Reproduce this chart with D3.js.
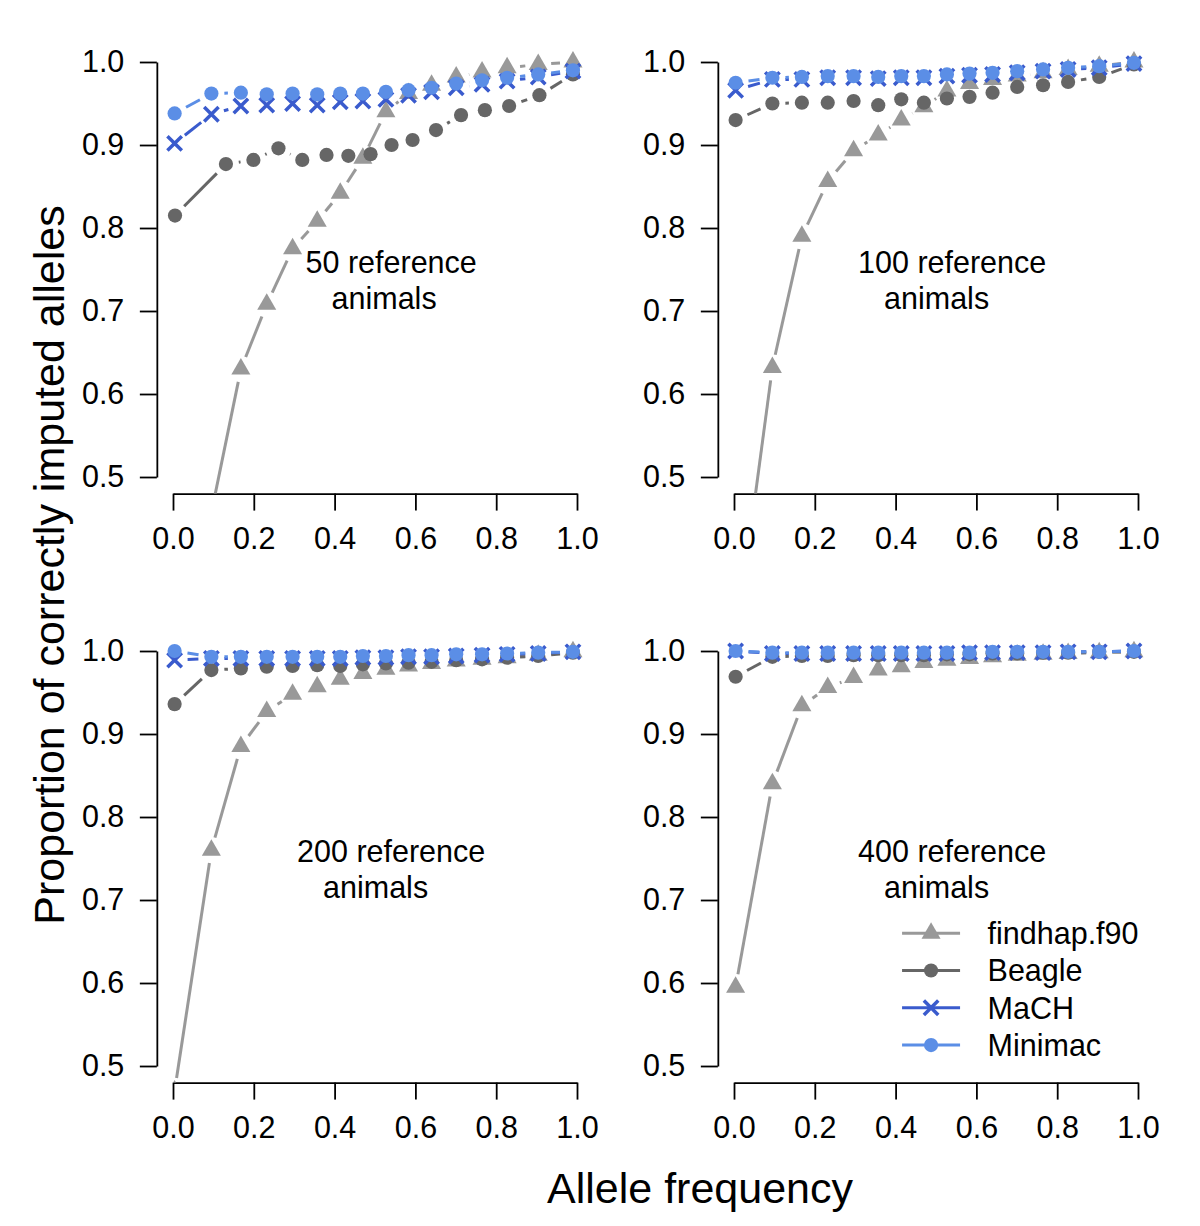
<!DOCTYPE html>
<html>
<head>
<meta charset="utf-8">
<script src="https://cdn.jsdelivr.net/npm/d3@7"></script>
<style>
  body { margin: 0; background: #fff; }
  svg { font-family: "Liberation Sans", Arial, sans-serif; }
</style>
</head>
<body>
<svg id="canvas" width="1200" height="1226"></svg>
<script>
// allele frequency bins (x of every point)
var alleleFreq = [0.004, 0.095, 0.168, 0.232, 0.296, 0.357, 0.414, 0.470, 0.527, 0.583, 0.640, 0.701, 0.765, 0.827, 0.904, 0.990];
// Beagle in the 50-animal panel sits at slightly shifted frequencies
var beagleFreq50 = [0.005, 0.131, 0.199, 0.261, 0.320, 0.380, 0.434, 0.489, 0.541, 0.593, 0.651, 0.713, 0.772, 0.832, 0.907, 0.990];

var methods = ['findhap.f90', 'Beagle', 'MaCH', 'Minimac'];
var panelLabels = ['50 reference', '100 reference', '200 reference', '400 reference'];

var findhap50 = [0.30, 0.457, 0.630, 0.708, 0.775, 0.808, 0.842, 0.884, 0.940, 0.962, 0.972, 0.982, 0.988, 0.993, 0.997, 1.000];
var beagle50  = [0.815, 0.877, 0.882, 0.896, 0.882, 0.888, 0.887, 0.889, 0.900, 0.906, 0.918, 0.936, 0.942, 0.947, 0.960, 0.985];
var mach50    = [0.902, 0.937, 0.947, 0.948, 0.950, 0.948, 0.952, 0.953, 0.955, 0.960, 0.964, 0.969, 0.973, 0.977, 0.982, 0.989];
var minimac50 = [0.938, 0.962, 0.963, 0.961, 0.962, 0.961, 0.962, 0.962, 0.964, 0.966, 0.969, 0.974, 0.978, 0.981, 0.985, 0.990];

var findhap100 = [0.30, 0.632, 0.790, 0.856, 0.893, 0.912, 0.930, 0.946, 0.965, 0.974, 0.979, 0.983, 0.987, 0.991, 0.995, 1.000];
var beagle100  = [0.930, 0.950, 0.951, 0.951, 0.953, 0.948, 0.955, 0.951, 0.956, 0.958, 0.963, 0.970, 0.972, 0.976, 0.982, 0.997];
var mach100    = [0.966, 0.979, 0.979, 0.981, 0.981, 0.980, 0.981, 0.981, 0.983, 0.984, 0.985, 0.987, 0.989, 0.991, 0.993, 0.998];
var minimac100 = [0.975, 0.981, 0.982, 0.983, 0.983, 0.982, 0.983, 0.983, 0.985, 0.986, 0.987, 0.989, 0.991, 0.993, 0.995, 0.999];

var findhap200 = [0.47, 0.760, 0.885, 0.927, 0.948, 0.957, 0.966, 0.973, 0.978, 0.982, 0.985, 0.988, 0.990, 0.992, 0.995, 0.999];
var beagle200  = [0.936, 0.977, 0.979, 0.981, 0.982, 0.983, 0.982, 0.984, 0.985, 0.986, 0.987, 0.989, 0.990, 0.992, 0.994, 0.998];
var mach200    = [0.989, 0.991, 0.991, 0.991, 0.991, 0.991, 0.991, 0.992, 0.992, 0.993, 0.993, 0.994, 0.995, 0.996, 0.997, 0.999];
var minimac200 = [1.000, 0.993, 0.993, 0.993, 0.993, 0.993, 0.993, 0.994, 0.994, 0.995, 0.995, 0.996, 0.996, 0.997, 0.998, 0.999];

var findhap400 = [0.595, 0.840, 0.934, 0.956, 0.968, 0.977, 0.981, 0.986, 0.989, 0.991, 0.993, 0.995, 0.996, 0.997, 0.998, 0.999];
var beagle400  = [0.969, 0.993, 0.994, 0.994, 0.995, 0.995, 0.995, 0.995, 0.996, 0.996, 0.997, 0.997, 0.998, 0.998, 0.999, 0.999];
var mach400    = [1.000, 0.997, 0.997, 0.997, 0.997, 0.997, 0.997, 0.997, 0.997, 0.998, 0.998, 0.998, 0.998, 0.999, 0.999, 1.000];
var minimac400 = [1.000, 0.998, 0.998, 0.998, 0.998, 0.998, 0.998, 0.998, 0.998, 0.998, 0.999, 0.999, 0.999, 0.999, 0.999, 1.000];

var xTicks = [0, 0.2, 0.4, 0.6, 0.8, 1.0];
var yTicks = [0.5, 0.6, 0.7, 0.8, 0.9, 1.0];

var colors = { 'findhap.f90': '#999999', 'Beagle': '#666666', 'MaCH': '#3A5BCD', 'Minimac': '#5B8EE6' };
var shapes = { 'findhap.f90': 'triangle', 'Beagle': 'circle', 'MaCH': 'cross', 'Minimac': 'circle' };

var panels = [
    { label: panelLabels[0], col: 0, row: 0, series: [[alleleFreq, findhap50], [beagleFreq50, beagle50], [alleleFreq, mach50], [alleleFreq, minimac50]] },
    { label: panelLabels[1], col: 1, row: 0, series: [[alleleFreq, findhap100], [alleleFreq, beagle100], [alleleFreq, mach100], [alleleFreq, minimac100]] },
    { label: panelLabels[2], col: 0, row: 1, series: [[alleleFreq, findhap200], [alleleFreq, beagle200], [alleleFreq, mach200], [alleleFreq, minimac200]] },
    { label: panelLabels[3], col: 1, row: 1, series: [[alleleFreq, findhap400], [alleleFreq, beagle400], [alleleFreq, mach400], [alleleFreq, minimac400]], legend: true }
];

// layout
var colLeft = [173, 734];
var rowTop = [62, 651];
var plotW = 404, plotH = 415;
var gap = 13;
var fontSmall = 30.5;

var svg = d3.select('#canvas');

function marker(g, shape, color) {
    if (shape === 'triangle') {
        var r = 11;
        g.append('path')
            .attr('d', 'M0,' + (-r) + 'L' + (r * 0.866) + ',' + (r / 2) + 'L' + (-r * 0.866) + ',' + (r / 2) + 'Z')
            .attr('fill', color);
    } else if (shape === 'circle') {
        g.append('circle').attr('r', 7.1).attr('fill', color);
    } else {
        var s = 7.2;
        g.append('path')
            .attr('d', 'M' + (-s) + ',' + (-s) + 'L' + s + ',' + s + 'M' + (-s) + ',' + s + 'L' + s + ',' + (-s))
            .attr('stroke', color)
            .attr('stroke-width', 3.5)
            .attr('fill', 'none');
    }
}

function drawPanel(p, i) {
    var x0 = colLeft[p.col], y0 = rowTop[p.row];
    var x = d3.scaleLinear().domain([0, 1]).range([x0, x0 + plotW]);
    var y = d3.scaleLinear().domain([0.5, 1]).range([y0 + plotH, y0]);
    var padX = plotW * 0.04, padY = plotH * 0.04;

    var g = svg.append('g');

    g.append('clipPath').attr('id', 'clip' + i)
        .append('rect')
        .attr('x', x0 - padX).attr('y', y0 - padY)
        .attr('width', plotW + 2 * padX).attr('height', plotH + 2 * padY);

    // axes
    var yAxis = d3.axisLeft(y).tickValues(yTicks).tickFormat(d3.format('.1f'))
        .tickSize(17).tickSizeOuter(0).tickPadding(15.5);
    var xAxis = d3.axisBottom(x).tickValues(xTicks).tickFormat(d3.format('.1f'))
        .tickSize(17).tickSizeOuter(0).tickPadding(17);

    [g.append('g').attr('transform', 'translate(' + (x0 - padX) + ',0)').call(yAxis),
     g.append('g').attr('transform', 'translate(0,' + (y0 + plotH + padY) + ')').call(xAxis)]
        .forEach(function(a) {
            a.selectAll('path, line').attr('stroke', '#000').attr('stroke-width', 1.8);
            a.selectAll('text').attr('font-size', fontSmall).attr('fill', '#000')
                .attr('font-family', '"Liberation Sans", Arial, sans-serif');
        });

    var plot = g.append('g').attr('clip-path', 'url(#clip' + i + ')');

    p.series.forEach(function(s, k) {
        var name = methods[k];
        var pts = s[0].map(function(f, j) { return [x(f), y(s[1][j])]; });
        var sg = plot.append('g');

        // type "b": segments broken around each point
        for (var j = 1; j < pts.length; j++) {
            var a = pts[j - 1], b = pts[j];
            var dx = b[0] - a[0], dy = b[1] - a[1];
            var len = Math.sqrt(dx * dx + dy * dy);
            if (len <= 2 * gap) continue;
            var ux = dx / len, uy = dy / len;
            sg.append('line')
                .attr('x1', a[0] + ux * gap).attr('y1', a[1] + uy * gap)
                .attr('x2', b[0] - ux * gap).attr('y2', b[1] - uy * gap)
                .attr('stroke', colors[name])
                .attr('stroke-width', 3);
        }

        pts.forEach(function(pt) {
            marker(sg.append('g').attr('transform', 'translate(' + pt[0] + ',' + pt[1] + ')'), shapes[name], colors[name]);
        });
    });

    // panel annotation
    var t1 = g.append('text')
        .attr('x', x(0.54)).attr('y', y(0.746))
        .attr('text-anchor', 'middle')
        .attr('font-size', fontSmall)
        .text(p.label);
    var w = t1.node().getComputedTextLength();
    g.append('text')
        .attr('x', x(0.54) - w / 2 + 26).attr('y', y(0.746) + 36.5)
        .attr('font-size', fontSmall)
        .text('animals');

    if (p.legend) {
        var lx = x(0.416), ly = y(0.66);
        methods.forEach(function(name, k) {
            var row = g.append('g').attr('transform', 'translate(' + lx + ',' + (ly + k * 37.3) + ')');
            row.append('line').attr('x1', 0).attr('x2', 58).attr('y1', 0).attr('y2', 0)
                .attr('stroke', colors[name]).attr('stroke-width', 3);
            marker(row.append('g').attr('transform', 'translate(29,0)'), shapes[name], colors[name]);
            row.append('text').attr('x', 85.5).attr('y', 0).attr('dy', '0.36em')
                .attr('font-size', fontSmall)
                .text(name);
        });
    }
}

panels.forEach(drawPanel);

// axis titles
svg.append('text')
    .attr('x', 700).attr('y', 1203)
    .attr('text-anchor', 'middle')
    .attr('font-size', 43)
    .text('Allele frequency');

svg.append('text')
    .attr('transform', 'translate(64,565) rotate(-90)')
    .attr('text-anchor', 'middle')
    .attr('font-size', 43)
    .text('Proportion of correctly imputed alleles');
</script>
</body>
</html>
